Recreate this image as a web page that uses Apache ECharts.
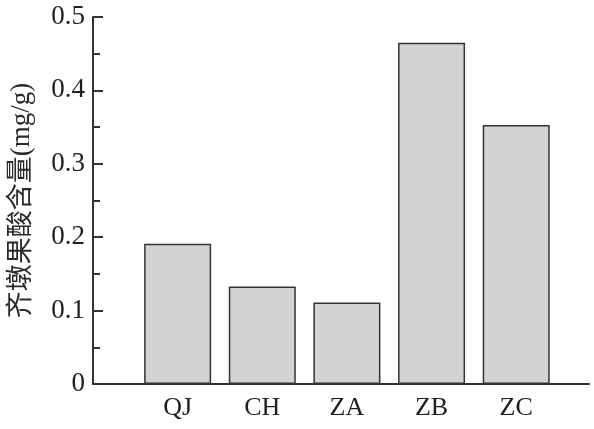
<!DOCTYPE html>
<html>
<head>
<meta charset="utf-8">
<script src="https://cdn.jsdelivr.net/npm/echarts@6/dist/echarts.min.js"></script>
<style>
  html, body { margin: 0; padding: 0; background: #fff; }
  #chart { width: 594px; height: 429px; }
</style>
</head>
<body>
<div id="chart"></div>
<script>
// sample names and measured content
const samples = ['QJ', 'CH', 'ZA', 'ZB', 'ZC'];
const content = [0.191, 0.133, 0.111, 0.465, 0.353];
const yTicks = [0, 0.1, 0.2, 0.3, 0.4, 0.5];

const axisColor = '#333';
const serif = '"Liberation Serif", "Noto Sans CJK SC", serif';

const chart = echarts.init(document.getElementById('chart'));

// bars sit at x = 1..5 on a value axis so the axis line can run past them
const barData = content.map((v, i) => [i + 1, v]);

chart.setOption({
  animation: false,
  grid: { left: 91, right: 5, top: 17, bottom: 45 },
  xAxis: {
    type: 'value',
    min: 0,
    max: 5.86,
    interval: 1,
    splitLine: { show: false },
    axisLine: { show: true, lineStyle: { color: axisColor, width: 2 } },
    axisTick: { show: false },
    axisLabel: {
      showMaxLabel: false,
      margin: 11,
      color: '#1e1e1e',
      fontFamily: serif,
      fontSize: 26,
      formatter: v => samples[v - 1] || ''
    }
  },
  yAxis: {
    type: 'value',
    min: yTicks[0],
    max: yTicks[yTicks.length - 1],
    interval: 0.1,
    name: '齐墩果酸含量(mg/g)',
    nameLocation: 'middle',
    nameGap: 58,
    nameTextStyle: { color: '#2a2a2a', fontFamily: serif, fontSize: 27 },
    splitLine: { show: false },
    axisLine: { show: true, lineStyle: { color: axisColor, width: 2 } },
    axisTick: { show: true, inside: true, length: 10, lineStyle: { color: axisColor, width: 2 } },
    minorTick: { show: true, splitNumber: 2, length: 7, lineStyle: { color: axisColor, width: 2 } },
    axisLabel: {
      margin: 8,
      color: '#1e1e1e',
      fontFamily: serif,
      fontSize: 27
    }
  },
  series: [{
    type: 'bar',
    data: barData,
    barWidth: 67,
    itemStyle: { color: '#d3d3d5', borderColor: '#333', borderWidth: 1.5 }
  }]
});
</script>
</body>
</html>
